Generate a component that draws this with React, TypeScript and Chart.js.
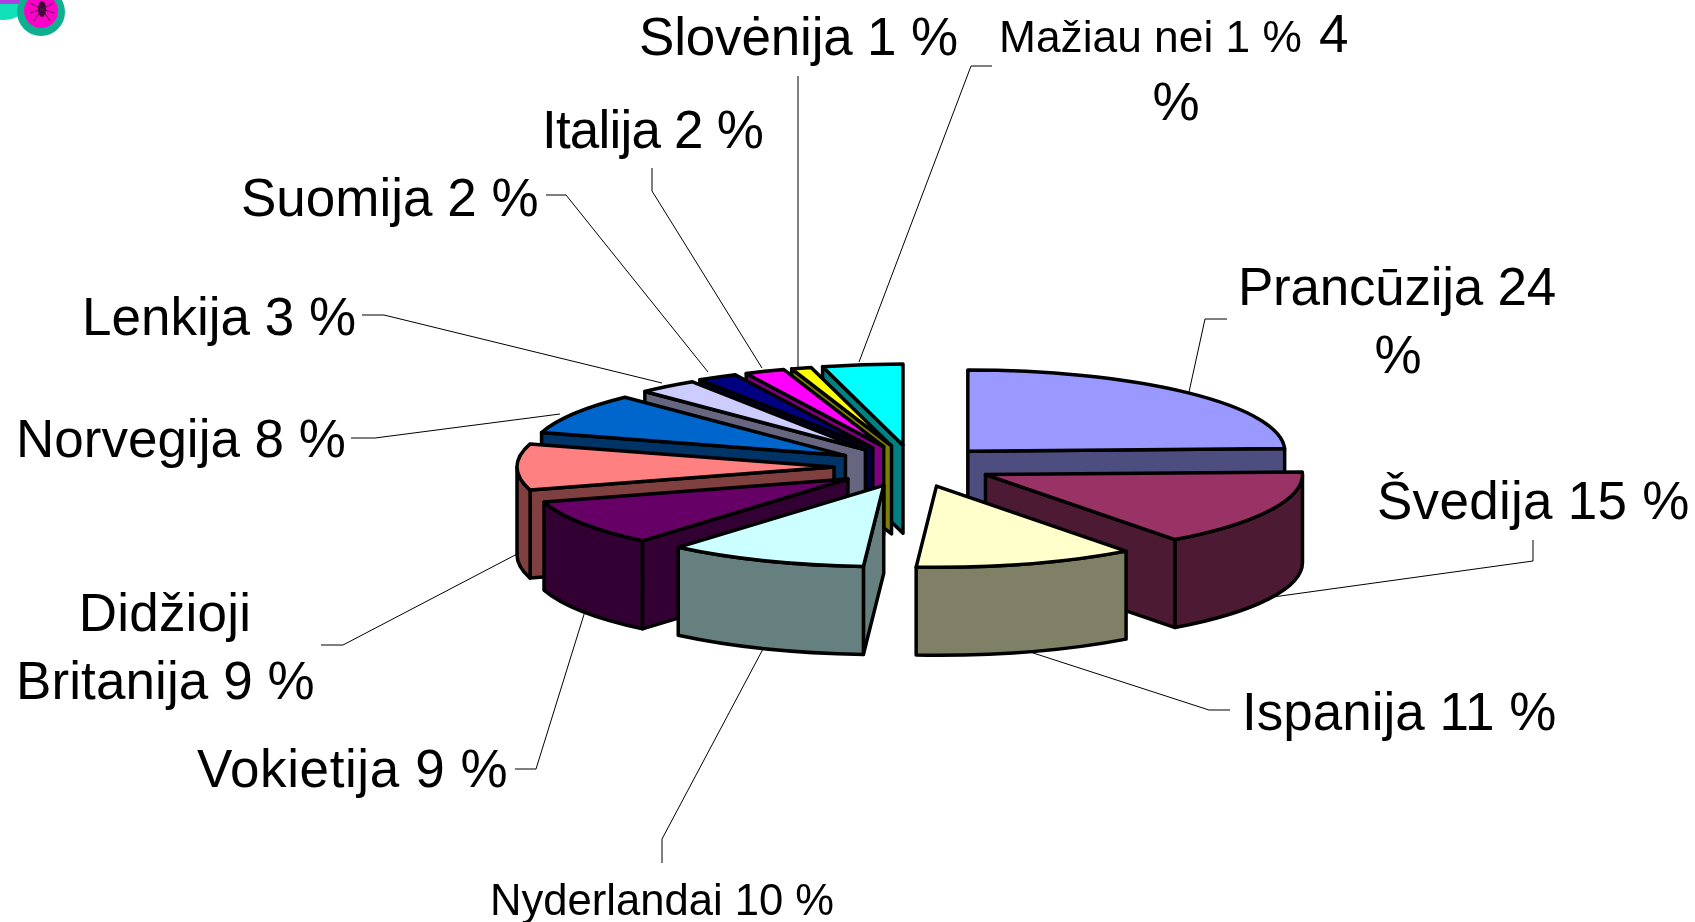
import React, { useEffect, useRef } from "react";
import { Chart, registerables } from "chart.js";

Chart.register(...registerables);

const categories = ["Prancūzija", "Švedija", "Ispanija", "Nyderlandai", "Vokietija", "Didžioji Britanija", "Norvegija", "Lenkija", "Suomija", "Italija", "Slovėnija", "Mažiau nei 1 %"];
const shares = [24, 15, 11, 10, 9, 9, 8, 3, 2, 2, 1, 4];
const topColors = ["#9999FF", "#993366", "#FFFFCC", "#CCFFFF", "#660066", "#FF8080", "#0066CC", "#CCCCFF", "#000080", "#FF00FF", "#FFFF00", "#00FFFF"];
const sideColors = ["#4D4D80", "#4D1A33", "#808066", "#668080", "#330033", "#804040", "#003366", "#666680", "#000040", "#800080", "#808000", "#008080"];

const FONT = '"Liberation Sans", Arial, sans-serif';
const labelTexts: [string, number, number, number, CanvasTextAlign, number][] = [
  ["Prancūzija 24", 1238, 305, 53, "left", -0.25],
  ["%", 1398, 373, 53, "center", 0],
  ["Švedija 15 %", 1377, 519, 53, "left", 0.27],
  ["Ispanija 11 %", 1242, 730, 53, "left", 0],
  ["Nyderlandai 10 %", 490, 915, 43.6, "left", 0],
  ["Vokietija 9 %", 197, 787, 53, "left", 0.6],
  ["Didžioji", 165, 631, 53, "center", 0.2],
  ["Britanija 9 %", 16, 699, 53, "left", 0.1],
  ["Norvegija 8 %", 16, 457, 53, "left", 0],
  ["Lenkija 3 %", 82, 335, 53, "left", 0],
  ["Suomija 2 %", 241, 216, 53, "left", 0],
  ["Italija 2 %", 542, 148, 53, "left", -0.8],
  ["Slovėnija 1 %", 639, 55, 53, "left", -0.17],
  ["Mažiau nei 1 %", 999, 52, 44.3, "left", 0],
  ["4", 1319, 52, 53, "left", 0],
  ["%", 1176, 120, 53, "center", 0],
];
const leaders: number[][] = [
  [1227, 319, 1205, 319, 1189, 392],
  [1533, 540, 1533, 561, 1273, 597],
  [1230, 710, 1209, 710, 1027, 651],
  [662, 863, 662, 839, 763, 649],
  [515, 769, 536, 769, 586, 608],
  [321, 645, 343, 645, 519, 553],
  [351, 438, 375, 438, 560, 414],
  [362, 315, 384, 315, 662, 383],
  [546, 195, 566, 195, 708, 372],
  [652, 168, 652, 191, 762, 368],
  [798, 76, 798, 368],
  [992, 66, 971, 66, 859, 362],
];

const CX = 908;
const CY = 467;
const RADIUS = 317;
const SQUASH = 0.256;
const DEPTH = 88;
const EXPLODE = 86;
const PERSPECTIVE_X = [0, 0, 4, 8, 12, 12, 11, 11, 7, 8, 8, 6];
const PERSPECTIVE_Y = [0, -2, -2, -2, 0, 0, 0, 0, 0, 0, 0, 0];

const pie3d = {
  id: "pie3d",
  beforeDatasetsDraw(chart: any) {
    const ctx: CanvasRenderingContext2D = chart.ctx;
    const arcs = chart.getDatasetMeta(0).data.map((arc: any, i: number) => {
      const p = arc.getProps(["x", "y", "startAngle", "endAngle", "outerRadius"], true);
      const mid = (p.startAngle + p.endAngle) / 2;
      return { arc, i, p, mid };
    });
    arcs.sort((a: any, b: any) => Math.sin(a.mid) - Math.sin(b.mid));
    ctx.save();
    ctx.lineWidth = 3.5;
    ctx.lineJoin = "round";
    ctx.strokeStyle = "#000";
    for (const { arc, i, p, mid } of arcs) {
      const R = p.outerRadius;
      const sx = CX + PERSPECTIVE_X[i] + Math.cos(mid) * EXPLODE;
      const sy = CY + PERSPECTIVE_Y[i] + Math.sin(mid) * EXPLODE * SQUASH;
      const px = (a: number) => sx + Math.cos(a) * R;
      const py = (a: number) => sy + Math.sin(a) * R * SQUASH;
      ctx.fillStyle = sideColors[i];
      const walls: number[] = [];
      if (-Math.cos(p.startAngle) > 0) walls.push(p.startAngle);
      if (Math.cos(p.endAngle) > 0) walls.push(p.endAngle);
      for (const a of walls) {
        ctx.beginPath();
        ctx.moveTo(sx, sy);
        ctx.lineTo(px(a), py(a));
        ctx.lineTo(px(a), py(a) + DEPTH);
        ctx.lineTo(sx, sy + DEPTH);
        ctx.closePath();
        ctx.fill();
        ctx.stroke();
      }
      const TAU = Math.PI * 2;
      for (const shift of [0, TAU, -TAU]) {
        const a0 = Math.max(p.startAngle + shift, 0);
        const a1 = Math.min(p.endAngle + shift, Math.PI);
        if (a0 < a1) {
          ctx.beginPath();
          ctx.ellipse(sx, sy, R, R * SQUASH, 0, a0, a1);
          ctx.ellipse(sx, sy + DEPTH, R, R * SQUASH, 0, a1, a0, true);
          ctx.closePath();
          ctx.fill();
          ctx.stroke();
        }
      }
      // top face: the library's own arc, squashed and moved to its exploded place
      ctx.save();
      ctx.translate(sx, sy);
      ctx.scale(1, SQUASH);
      ctx.translate(-p.x, -p.y);
      arc.draw(ctx);
      ctx.restore();
      ctx.beginPath();
      ctx.moveTo(sx, sy);
      ctx.ellipse(sx, sy, R, R * SQUASH, 0, p.startAngle, p.endAngle);
      ctx.closePath();
      ctx.stroke();
    }
    ctx.restore();
    return false;
  },
  afterDraw(chart: any) {
    const ctx: CanvasRenderingContext2D = chart.ctx;
    ctx.save();
    // corner decoration
    ctx.fillStyle = "#12E0B8";
    ctx.beginPath();
    ctx.ellipse(4, -3, 26, 23, 0, 0, Math.PI * 2);
    ctx.fill();
    ctx.fillStyle = "#B040E0";
    ctx.fillRect(0, 0, 22, 4);
    ctx.fillStyle = "#0FB090";
    ctx.beginPath();
    ctx.arc(41, 12, 24, 0, Math.PI * 2);
    ctx.fill();
    ctx.fillStyle = "#FF00C8";
    ctx.beginPath();
    ctx.arc(41, 11, 17, 0, Math.PI * 2);
    ctx.fill();
    ctx.fillStyle = "#3A0A30";
    ctx.beginPath();
    ctx.ellipse(42, 9, 4, 8, 0, 0, Math.PI * 2);
    ctx.fill();
    ctx.strokeStyle = "#5A1050";
    ctx.lineWidth = 1;
    for (const [dx, dy] of [[-12, -6], [12, -6], [-12, 4], [12, 4], [-8, 12], [8, 12]]) {
      ctx.beginPath();
      ctx.moveTo(42, 9);
      ctx.lineTo(42 + dx, 9 + dy);
      ctx.stroke();
    }
    // leader lines
    ctx.strokeStyle = "#000";
    ctx.lineWidth = 1;
    for (const l of leaders) {
      ctx.beginPath();
      ctx.moveTo(l[0], l[1]);
      for (let k = 2; k < l.length; k += 2) ctx.lineTo(l[k], l[k + 1]);
      ctx.stroke();
    }
    // labels
    ctx.fillStyle = "#000";
    ctx.textBaseline = "alphabetic";
    for (const [t, x, y, size, align, spacing] of labelTexts) {
      ctx.font = `${size}px ${FONT}`;
      ctx.textAlign = align;
      (ctx as any).letterSpacing = `${spacing}px`;
      ctx.fillText(t, x, y);
    }
    ctx.restore();
  },
};

export default function App() {
  const ref = useRef<HTMLCanvasElement>(null);
  useEffect(() => {
    const chart = new Chart(ref.current as HTMLCanvasElement, {
      type: "pie",
      data: {
        labels: categories,
        datasets: [{ data: shares, backgroundColor: topColors, borderWidth: 0, radius: RADIUS } as any],
      },
      options: {
        responsive: false,
        animation: false,
        radius: RADIUS,
        plugins: { legend: { display: false }, tooltip: { enabled: false } },
      } as any,
      plugins: [pie3d as any],
    });
    return () => chart.destroy();
  }, []);
  return (
    <div style={{ position: "fixed", left: 0, top: 0, width: 1695, height: 922, overflow: "hidden", background: "#fff" }}>
      <canvas ref={ref} width={1695} height={922} style={{ display: "block" }} />
    </div>
  );
}
